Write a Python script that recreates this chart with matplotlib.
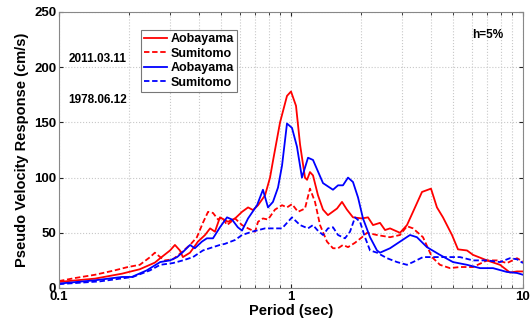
import matplotlib
matplotlib.use("Agg")
import matplotlib.pyplot as plt
from matplotlib.ticker import FixedLocator, NullFormatter, LogLocator

plt.rcParams['font.family'] = ['Liberation Sans', 'DejaVu Sans']
plt.rcParams['font.weight'] = 'bold'

# 2011.03.11 Aobayama (red solid)
t_aob11 = [0.100, 0.143, 0.187, 0.223, 0.259, 0.273, 0.301, 0.316, 0.332, 0.342,
           0.367, 0.397, 0.426, 0.448, 0.470, 0.494, 0.535, 0.574, 0.615, 0.653,
           0.686, 0.721, 0.773, 0.812, 0.836, 0.897, 0.961, 1.000, 1.051, 1.094,
           1.149, 1.173, 1.207, 1.244, 1.307, 1.374, 1.443, 1.579, 1.659, 1.742,
           1.850, 2.023, 2.147, 2.257, 2.419, 2.543, 2.672, 2.950, 3.162, 3.357,
           3.670, 4.012, 4.257, 4.519, 4.943, 5.245, 5.737, 6.089, 6.998, 7.960,
           8.790, 9.420, 10.00]
v_aob11 = [5.5, 8.5, 13, 17, 23, 27, 34, 39, 34, 28,
           32, 42, 48, 54, 51, 64, 60, 63, 69, 73,
           70.6, 75, 84, 100, 115, 150, 174, 178, 165, 130,
           100, 98, 105, 102, 84, 71, 66, 72, 78, 71,
           64, 63, 64, 57, 59, 52.5, 54, 50, 57, 69,
           87, 90, 73, 64, 48, 35, 34, 30, 25, 21,
           14, 15, 15]

# 2011.03.11 Sumitomo (red dashed)
t_sum11 = [0.100, 0.117, 0.143, 0.174, 0.198, 0.223, 0.247, 0.259, 0.273, 0.286,
           0.310, 0.332, 0.367, 0.393, 0.417, 0.439, 0.461, 0.485, 0.505, 0.530,
           0.574, 0.615, 0.653, 0.700, 0.721, 0.757, 0.796, 0.853, 0.915, 0.961,
           1.010, 1.072, 1.149, 1.207, 1.269, 1.334, 1.429, 1.517, 1.595, 1.675,
           1.761, 1.888, 2.023, 2.127, 2.348, 2.672, 2.950, 3.162, 3.357, 3.707,
           4.053, 4.386, 4.845, 5.350, 6.089, 6.998, 7.727, 8.535, 9.420, 10.00]
v_sum11 = [6.3, 9, 12, 16, 19, 21, 28, 32, 28, 25,
           26, 31, 39, 46, 59, 69, 68, 62, 64, 57,
           63, 57, 54, 51, 60, 63, 62, 71, 75, 73,
           76, 69, 72, 90, 78, 57, 42, 36, 36, 39,
           37, 41, 46, 50, 48, 46, 48, 56, 54, 46,
           28, 21, 18, 19, 19, 25, 25, 22.6, 27, 24]

# 1978.06.12 Aobayama (blue solid)
t_aob78 = [0.100, 0.143, 0.187, 0.206, 0.239, 0.273, 0.301, 0.323, 0.342, 0.367,
           0.385, 0.413, 0.434, 0.461, 0.494, 0.530, 0.557, 0.590, 0.615, 0.653,
           0.714, 0.757, 0.796, 0.836, 0.879, 0.915, 0.961, 1.010, 1.061, 1.115,
           1.184, 1.244, 1.374, 1.517, 1.595, 1.675, 1.761, 1.850, 1.945, 2.043,
           2.191, 2.348, 2.419, 2.672, 2.950, 3.258, 3.490, 3.855, 4.386, 4.990,
           5.737, 6.527, 7.425, 8.535, 9.420, 10.00]
v_aob78 = [4, 7, 10, 10, 16, 23.5, 25, 28, 32.6, 39,
           36, 42, 45, 45, 55, 64, 62, 55, 52, 63,
           75, 89, 73, 78, 91, 111, 149, 145, 128, 100,
           118, 116, 95, 89, 93, 93, 100, 96, 82, 63,
           46, 34, 32, 36, 42, 48, 46, 37, 30, 23.5,
           21, 18, 18, 14.5, 13.6, 12]

# 1978.06.12 Sumitomo (blue dashed)
t_sum78 = [0.100, 0.150, 0.208, 0.247, 0.273, 0.310, 0.342, 0.378, 0.417, 0.461,
           0.494, 0.519, 0.574, 0.615, 0.679, 0.773, 0.853, 0.915, 0.961, 1.010,
           1.094, 1.184, 1.244, 1.298, 1.374, 1.443, 1.517, 1.595, 1.709, 1.796,
           1.888, 1.984, 2.084, 2.191, 2.348, 2.593, 2.864, 3.162, 3.357, 3.707,
           4.093, 4.699, 5.350, 6.089, 6.998, 7.960, 8.790, 9.420, 10.00]
v_sum78 = [3.5, 6, 10, 16, 21, 22.6, 25, 28, 34, 37,
           39, 40, 43.5, 48, 51, 54, 54, 54, 59, 64,
           57, 54, 57, 52.5, 48, 54, 55, 48, 45, 51,
           64, 60, 46, 34, 32, 27, 23.5, 21, 23.5, 28,
           28, 28, 28, 25, 25, 23.5, 27, 26, 22.6]

x_ticks = [0.1, 1, 10]
x_tick_labels = ['0.1', '1', '10']
y_ticks = [0, 50, 100, 150, 200, 250]

fig = plt.figure(figsize=(5.31, 3.2), dpi=100)
ax = fig.add_axes([59/531, 32/320, 464/531, 276/320])

ax.plot(t_aob11, v_aob11, color='#ff0000', lw=1.3, ls='-', label='Aobayama')
ax.plot(t_sum11, v_sum11, color='#ff0000', lw=1.3, ls=(0, (3, 1.5)), label='Sumitomo')
ax.plot(t_aob78, v_aob78, color='#0000ff', lw=1.3, ls='-', label='Aobayama')
ax.plot(t_sum78, v_sum78, color='#0000ff', lw=1.3, ls=(0, (3, 1.5)), label='Sumitomo')

ax.set_xscale('log')
ax.set_xlim(0.1, 10)
ax.set_ylim(0, 250)
ax.xaxis.set_major_locator(FixedLocator(x_ticks))
ax.set_xticklabels(x_tick_labels)
ax.xaxis.set_minor_locator(LogLocator(base=10, subs=range(2, 10)))
ax.xaxis.set_minor_formatter(NullFormatter())
ax.set_yticks(y_ticks)
ax.grid(True, which='both', color='#c8c8c8', ls=':', lw=0.8)
ax.set_axisbelow(True)
ax.tick_params(which='both', direction='in', top=True, right=True, labelsize=9.5,
               colors='#222222', length=3, pad=2)
ax.tick_params(which='minor', length=2)
for lab in ax.get_xticklabels() + ax.get_yticklabels():
    lab.set_fontweight('bold')
    lab.set_color('black')
for s in ax.spines.values():
    s.set_color('#888888')
    s.set_linewidth(0.8)

ax.set_xlabel('Period (sec)', fontsize=10.5, fontweight='bold', labelpad=1)
ax.set_ylabel('Pseudo Velocity Response (cm/s)', fontsize=10.5, fontweight='bold', labelpad=4)

leg = ax.legend(loc='upper left', bbox_to_anchor=(0.177, 0.935), fontsize=9,
                frameon=True, fancybox=False, handlelength=1.8, handletextpad=0.3,
                borderpad=0.25, labelspacing=0.2, borderaxespad=0)
leg.get_frame().set_edgecolor('#555555')
leg.get_frame().set_linewidth(0.8)
for t in leg.get_texts():
    t.set_fontweight('bold')

ax.text(0.02, 0.83, '2011.03.11', transform=ax.transAxes, fontsize=8.5, fontweight='bold', va='center')
ax.text(0.02, 0.68, '1978.06.12', transform=ax.transAxes, fontsize=8.5, fontweight='bold', va='center')
ax.text(0.89, 0.915, 'h=5%', transform=ax.transAxes, fontsize=8.5, fontweight='bold', va='center')

fig.savefig('out.png', dpi=100)
